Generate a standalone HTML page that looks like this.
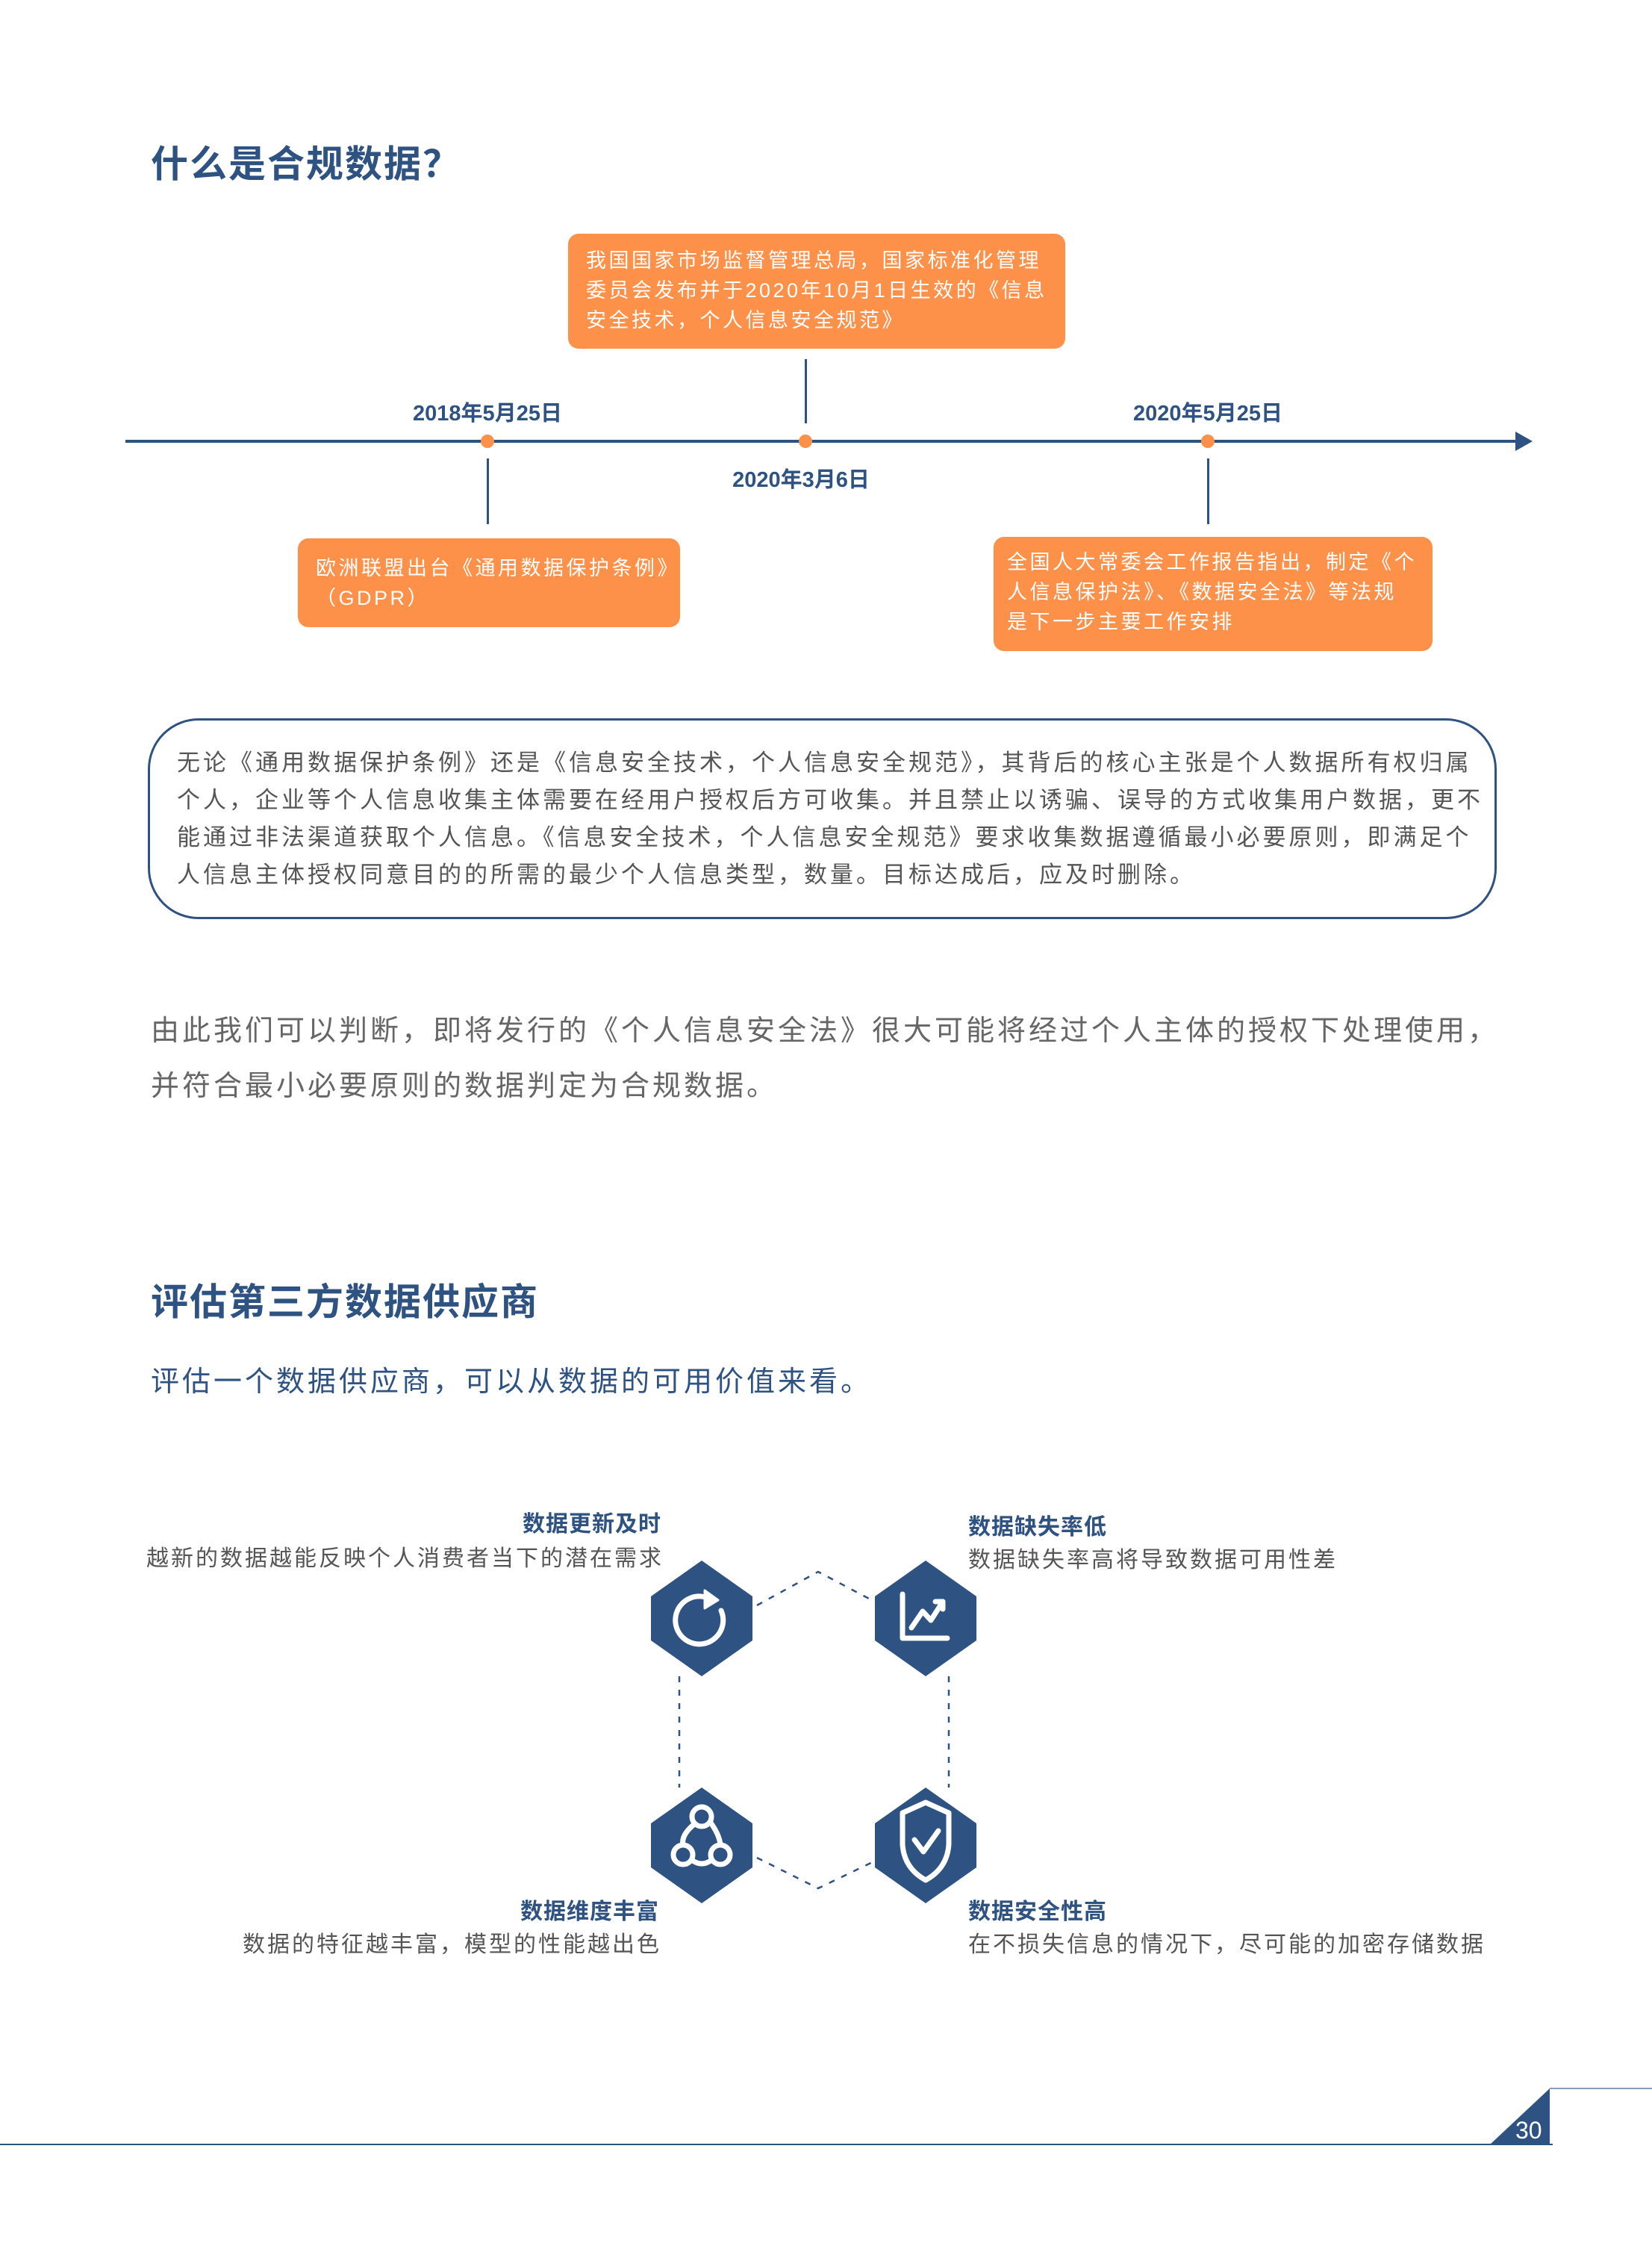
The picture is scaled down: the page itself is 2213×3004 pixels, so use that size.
<!DOCTYPE html>
<html><head><meta charset="utf-8"><style>
*{margin:0;padding:0;box-sizing:border-box}
body{width:2213px;height:3004px;background:#fff;position:relative;overflow:hidden;font-family:"Liberation Sans","Noto Sans CJK SC",sans-serif}
.a{position:absolute;white-space:nowrap}
.h{color:#2e5281;font-weight:bold;font-size:50px;letter-spacing:2px}
.box{position:absolute;background:#fd914a;border-radius:14px;color:#fff;font-size:27px;line-height:40px;padding:12px 24px;letter-spacing:3.5px;white-space:nowrap}
.date{color:#2e5281;font-weight:bold;font-size:29px;transform:translateX(-50%)}
.dot{position:absolute;width:18px;height:18px;border-radius:50%;background:#fd914a;margin:-9px 0 0 -9px}
.vl{position:absolute;width:3px;background:#2e5281;margin-left:-1px}
.lt{color:#2e5281;font-weight:bold;font-size:30px;letter-spacing:1px}
.ld{color:#555;font-size:30px;letter-spacing:3px}
</style></head><body>
<div class="a h" style="left:202px;top:180px">什么是合规数据？</div>

<div class="box" style="left:761px;top:313px;width:666px;height:154px;padding-top:16px">我国国家市场监督管理总局，国家标准化管理<br>委员会发布并于2020年10月1日生效的《信息<br>安全技术，个人信息安全规范》</div>
<div class="vl" style="left:1079px;top:481px;height:86px"></div>

<svg class="a" style="left:0;top:570px" width="2213" height="44">
<line x1="168" y1="21" x2="2040" y2="21" stroke="#2e5281" stroke-width="4"/>
<polygon points="2030,8 2053,21 2030,34" fill="#2e5281"/>
</svg>
<div class="dot" style="left:653px;top:591px"></div>
<div class="dot" style="left:1079px;top:591px"></div>
<div class="dot" style="left:1618px;top:591px"></div>
<div class="a date" style="left:653px;top:530px">2018年5月25日</div>
<div class="a date" style="left:1618px;top:530px">2020年5月25日</div>
<div class="a date" style="left:1073px;top:619px">2020年3月6日</div>
<div class="vl" style="left:653px;top:614px;height:88px"></div>
<div class="vl" style="left:1618px;top:614px;height:88px"></div>

<div class="box" style="left:399px;top:721px;width:512px;height:119px;padding-top:20px">欧洲联盟出台《通用数据保护条例》<br>（GDPR）</div>
<div class="box" style="left:1331px;top:719px;width:588px;height:153px;padding:14px 18px">全国人大常委会工作报告指出，制定《个<br>人信息保护法》、《数据安全法》等法规<br>是下一步主要工作安排</div>

<div style="position:absolute;left:198px;top:962px;width:1807px;height:269px;border:3px solid #2e5281;border-radius:68px;padding:32px 36px;color:#555;font-size:31px;line-height:50px;letter-spacing:4px;white-space:nowrap">无论《通用数据保护条例》还是《信息安全技术，个人信息安全规范》，其背后的核心主张是个人数据所有权归属<br>个人，企业等个人信息收集主体需要在经用户授权后方可收集。并且禁止以诱骗、误导的方式收集用户数据，更不<br>能通过非法渠道获取个人信息。《信息安全技术，个人信息安全规范》要求收集数据遵循最小必要原则，即满足个<br>人信息主体授权同意目的的所需的最少个人信息类型，数量。目标达成后，应及时删除。</div>

<div class="a" style="left:202px;top:1344px;color:#666;font-size:38px;line-height:74px;letter-spacing:4px">由此我们可以判断，即将发行的《个人信息安全法》很大可能将经过个人主体的授权下处理使用，<br>并符合最小必要原则的数据判定为合规数据。</div>

<div class="a h" style="left:202px;top:1704px">评估第三方数据供应商</div>
<div class="a" style="left:202px;top:1819px;color:#2e5281;font-size:38px;letter-spacing:4px">评估一个数据供应商，可以从数据的可用价值来看。</div>

<svg class="a" style="left:0;top:0" width="2213" height="3004">
<g stroke="#2e5281" stroke-width="2.5" stroke-dasharray="8,10" fill="none">
<polyline points="1014,2150 1096,2105 1181,2150"/>
<polyline points="1014,2488 1096,2529 1181,2488"/>
<line x1="910" y1="2245" x2="910" y2="2394"/>
<line x1="1271" y1="2245" x2="1271" y2="2394"/>
</g>
<g fill="#2e5281">
<polygon points="940,2090 1008,2138 1008,2197 940,2245 872,2197 872,2138"/>
<polygon points="1240,2090 1308,2138 1308,2197 1240,2245 1172,2197 1172,2138"/>
<polygon points="940,2394 1008,2442 1008,2501 940,2549 872,2501 872,2442"/>
<polygon points="1240,2394 1308,2442 1308,2501 1240,2549 1172,2501 1172,2442"/>
</g>
<g stroke="#fff" stroke-width="7" fill="none" stroke-linecap="round" stroke-linejoin="round">
<path d="M954,2143 A32,32 0 1 0 966,2157"/>
<polygon points="944,2130 962,2143 944,2154" fill="#fff" stroke-width="3"/>
<polyline points="1209,2135 1209,2194 1269,2194"/>
<polyline points="1221,2180 1236,2158 1247,2170 1263,2145"/>
<polyline points="1253,2145 1263,2145 1263,2155"/>
<circle cx="940" cy="2433" r="13"/>
<circle cx="915" cy="2484" r="13"/>
<circle cx="965" cy="2484" r="13"/>
<path d="M930,2443 Q912,2458 915,2471 M952,2441 Q964,2458 965,2471 M928,2492 Q940,2500 952,2492"/>
<path d="M1240,2414 L1271,2428 L1271,2470 Q1269,2502 1240,2518 Q1211,2502 1209,2470 L1209,2428 Z"/>
<polyline points="1225,2464 1237,2480 1257,2452"/>
</g>
<line x1="0" y1="2872" x2="2080" y2="2872" stroke="#2e5281" stroke-width="2"/>
<line x1="2076" y1="2797" x2="2213" y2="2797" stroke="#8a9cbf" stroke-width="2"/>
<polygon points="1996,2872 2076,2872 2076,2797" fill="#2e5281"/>
<text x="2030" y="2864" fill="#fff" font-size="32" font-family="Liberation Sans, sans-serif">30</text>
</svg>

<div class="a lt" style="right:1327px;top:2016px">数据更新及时</div>
<div class="a ld" style="right:1324px;top:2062px">越新的数据越能反映个人消费者当下的潜在需求</div>
<div class="a lt" style="left:1297px;top:2020px">数据缺失率低</div>
<div class="a ld" style="left:1297px;top:2064px">数据缺失率高将导致数据可用性差</div>
<div class="a lt" style="right:1330px;top:2535px">数据维度丰富</div>
<div class="a ld" style="right:1327px;top:2579px">数据的特征越丰富，模型的性能越出色</div>
<div class="a lt" style="left:1297px;top:2535px">数据安全性高</div>
<div class="a ld" style="left:1297px;top:2579px">在不损失信息的情况下，尽可能的加密存储数据</div>
</body></html>
